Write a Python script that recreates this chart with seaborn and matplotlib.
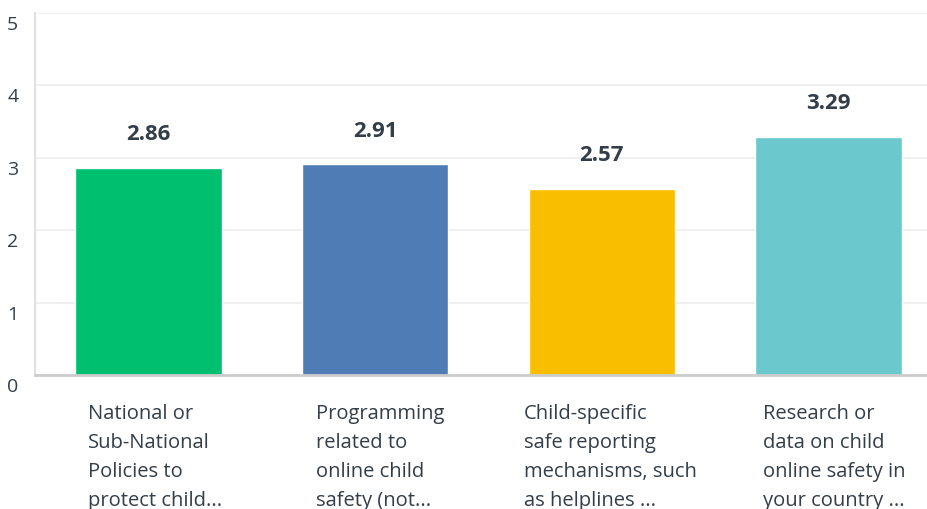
import matplotlib
matplotlib.use("Agg")
import matplotlib.pyplot as plt
import matplotlib.transforms as mtransforms
import pandas as pd
import seaborn as sns

categories = [
    "National or\nSub-National\nPolicies to\nprotect child...",
    "Programming\nrelated to\nonline child\nsafety (not...",
    "Child-specific\nsafe reporting\nmechanisms, such\nas helplines ...",
    "Research or\ndata on child\nonline safety in\nyour country ...",
]
scores = [2.86, 2.91, 2.57, 3.29]
bar_colors = ["#00BF6F", "#507CB6", "#F9BE00", "#6BC8CD"]
y_ticks = [0, 1, 2, 3, 4, 5]

TEXT = "#333E48"

sns.set_theme(style="white")
plt.rcParams["font.family"] = ["Open Sans", "DejaVu Sans"]

df = pd.DataFrame({"item": categories, "score": scores})

fig = plt.figure(figsize=(9.28, 5.10), dpi=100)
ax = fig.add_axes([35 / 928, 134 / 510, 907 / 928, 362 / 510])

sns.barplot(
    data=df, x="item", y="score", hue="item", palette=bar_colors,
    width=0.645, legend=False, saturation=1, ax=ax,
)

ax.set_xlim(-0.5, 3.5)
ax.set_ylim(0, 5)
ax.set_yticks(y_ticks)
ax.set_yticklabels([str(t) for t in y_ticks], fontsize=14, color=TEXT)
for y in y_ticks[1:]:
    ax.axhline(y, color="#EEEEEE", lw=1.2, zorder=0)
ax.set_axisbelow(True)

for side in ["top", "right"]:
    ax.spines[side].set_visible(False)
ax.spines["left"].set_color("#E0E0E0")
ax.spines["left"].set_linewidth(1.5)
ax.spines["bottom"].set_color("#CCCCCC")
ax.spines["bottom"].set_linewidth(2)

ax.tick_params(axis="y", length=0, pad=12)
ax.tick_params(axis="x", length=0, pad=20)
ax.set_xlabel("")
ax.set_ylabel("")

# shift y tick labels a bit below their gridlines
ydown = mtransforms.ScaledTranslation(0, -0.09, fig.dpi_scale_trans)
for lbl in ax.get_yticklabels():
    lbl.set_transform(lbl.get_transform() + ydown)

# x labels left-aligned, wrapped boxes start a little left of each bar
left_px = [-60, -59, -78, -66]
for lbl, dx in zip(ax.get_xticklabels(), left_px):
    lbl.set_ha("left")
    lbl.set_va("top")
    lbl.set_fontsize(14.5)
    lbl.set_color(TEXT)
    lbl.set_linespacing(1.6)
    shift = mtransforms.ScaledTranslation(dx / 100, 0, fig.dpi_scale_trans)
    lbl.set_transform(lbl.get_transform() + shift)

for i, v in enumerate(scores):
    ax.annotate(
        f"{v:.2f}", (i, v), xytext=(0, 17), textcoords="offset points",
        ha="center", va="bottom", fontsize=16, fontweight="bold", color=TEXT,
    )

fig.savefig("out.png", dpi=100)
